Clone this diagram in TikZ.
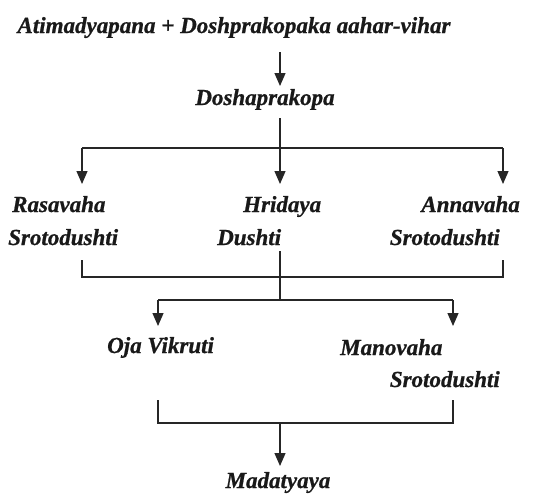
\documentclass[tikz,border=0pt]{standalone}
\usepackage{fontspec}
\setmainfont{Liberation Serif}[BoldItalicFeatures={FakeBold=0.8}]
\usetikzlibrary{arrows.meta}
\begin{document}
\begin{tikzpicture}[x=1pt,y=1pt,
  lbl/.style={font=\fontsize{23}{26}\selectfont\bfseries\itshape, inner sep=0pt, text=black!90},
  ln/.style={line width=1.2pt, draw=black!85},
  arr/.style={ln, -{Triangle[width=11pt,length=13pt]}}]
\useasboundingbox (0,0) rectangle (534,-496);
% texts
\node[lbl, anchor=base] (title) at (234,-33) {Atimadyapana + Doshprakopaka aahar-vihar};
\node[lbl, anchor=base] (dosha) at (265,-105) {Doshaprakopa};
\node[lbl, anchor=base west] (ras1) at (12,-212) {Rasavaha};
\node[lbl, anchor=base west] (ras2) at (8,-245) {Srotodushti};
\node[lbl, anchor=base west] (hri1) at (243,-212) {Hridaya};
\node[lbl, anchor=base west] (hri2) at (217,-245) {Dushti};
\node[lbl, anchor=base east] (ann1) at (520,-212) {Annavaha};
\node[lbl, anchor=base east] (ann2) at (500,-245) {Srotodushti};
\node[lbl, anchor=base west] (oja) at (107,-353) {Oja Vikruti};
\node[lbl, anchor=base west] (mano1) at (340,-355) {Manovaha};
\node[lbl, anchor=base east] (mano2) at (500,-387) {Srotodushti};
\node[lbl, anchor=base] (mada) at (278,-488) {Madatyaya};
% junction coordinates
\coordinate (t0) at (280,-52);
\coordinate (t1) at (280,-86);
\coordinate (d0) at (280,-118);
\coordinate (j1) at (280,-148);
\coordinate (j1l) at (82,-148);
\coordinate (j1r) at (503,-148);
\coordinate (rasE) at (82,-184);
\coordinate (hriE) at (280,-184);
\coordinate (annE) at (503,-184);
\coordinate (rasB) at (82,-260);
\coordinate (annB) at (503,-260);
\coordinate (k1l) at (82,-277);
\coordinate (k1r) at (503,-277);
\coordinate (hriB) at (280,-251);
\coordinate (j2) at (280,-300);
\coordinate (j2l) at (158,-300);
\coordinate (j2r) at (453,-300);
\coordinate (ojaE) at (158,-326);
\coordinate (manoE) at (453,-326);
\coordinate (ojaB) at (158,-400);
\coordinate (manoB) at (453,-400);
\coordinate (k2l) at (158,-423);
\coordinate (k2r) at (453,-423);
\coordinate (k2) at (280,-423);
\coordinate (madaE) at (280,-466);
% connectors
\draw[arr] (t0) -- (t1);
\draw[ln] (d0) -- (j1);
\draw[ln] (j1l) -- (j1r);
\draw[arr] (j1l) -- (rasE);
\draw[arr] (j1) -- (hriE);
\draw[arr] (j1r) -- (annE);
\draw[ln] (rasB) -- (k1l) -- (k1r) -- (annB);
\draw[ln] (hriB) -- (j2);
\draw[ln] (j2l) -- (j2r);
\draw[arr] (j2l) -- (ojaE);
\draw[arr] (j2r) -- (manoE);
\draw[ln] (ojaB) -- (k2l) -- (k2r) -- (manoB);
\draw[arr] (k2) -- (madaE);
\end{tikzpicture}
\end{document}
